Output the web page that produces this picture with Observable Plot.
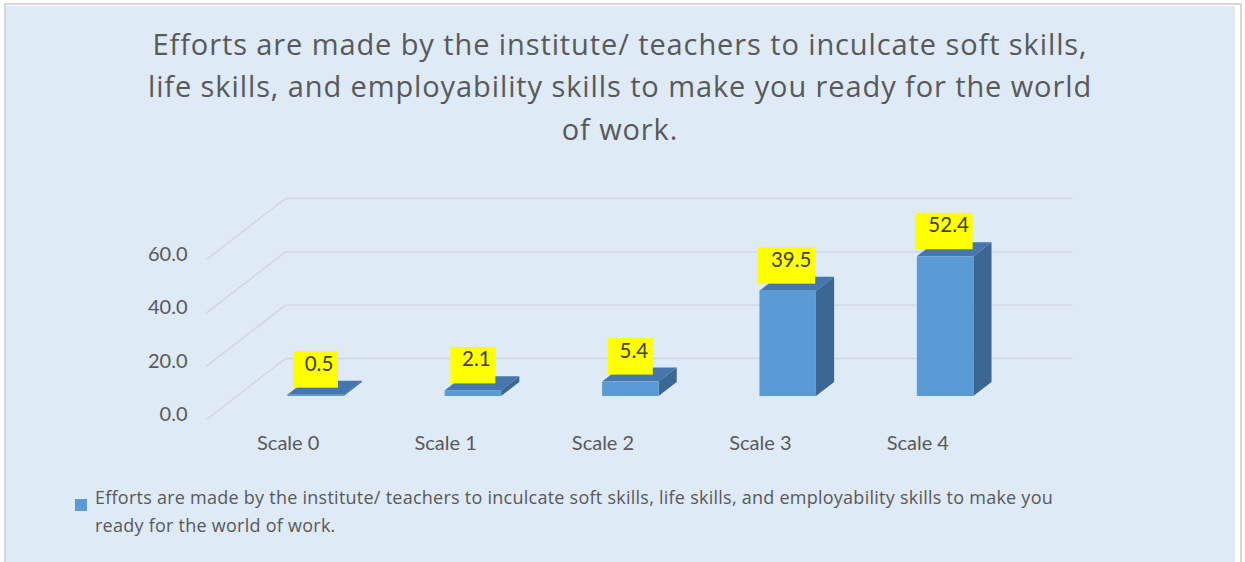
<!DOCTYPE html>
<html><head><meta charset="utf-8">
<script src="https://cdn.jsdelivr.net/npm/d3@7"></script>
<script src="https://cdn.jsdelivr.net/npm/@observablehq/plot@0.6"></script>
<style>
html,body{margin:0;padding:0;background:#fff;}
body{width:1245px;height:562px;overflow:hidden;position:relative;font-family:Lato,"Open Sans",sans-serif;}
#outer{position:absolute;left:4px;top:3px;width:1238px;height:600px;border:2px solid #d6d6d6;box-sizing:border-box;background:#fff;}
#bg{position:absolute;left:6px;top:6px;width:1229px;height:600px;background:#deeaf6;}
#title{position:absolute;left:0;top:22.5px;width:1240px;text-align:center;color:#595959;font-family:"Open Sans",sans-serif;font-size:29px;letter-spacing:0.9px;line-height:42.5px;white-space:nowrap;}
#chart{position:absolute;left:0;top:170px;}
#legend{position:absolute;left:75px;top:484.3px;color:#595959;font-family:"Open Sans",sans-serif;font-size:18px;letter-spacing:0.25px;line-height:27.5px;white-space:nowrap;}
#legend .sw{position:absolute;left:0;top:15px;width:12px;height:12px;background:#5b9bd5;}
#legend .tx{position:absolute;left:20px;top:0;}
</style>
</head><body>
<div id="outer"></div><div id="bg"></div>
<div id="title"></div>
<div id="chart"></div>
<div id="legend"><div class="sw"></div><div class="tx"></div></div>
<script>
// ---- data ----
const categories = ["Scale 0", "Scale 1", "Scale 2", "Scale 3", "Scale 4"];
const values = [0.5, 2.1, 5.4, 39.5, 52.4];
const yTicks = [0, 20, 40, 60];
const titleLines = [
  "Efforts are made by the institute/ teachers to inculcate soft skills,",
  "life skills, and employability skills to make you ready for the world",
  "of work."
];
const legendLines = [
  "Efforts are made by the institute/ teachers to inculcate soft skills, life skills, and employability skills to make you",
  "ready for the world of work."
];

// ---- oblique 3D projection parameters (depth expressed in data units) ----
const DX = 0.502;    // category units per unit of depth
const DY = 22.875;   // value units per unit of depth
const barL = 0.327, barR = 0.686;  // bar extent within a category
const zF = 0.377, zB = 0.607;      // bar front / back depth

const rows = categories.map((c, i) => ({c, i, v: values[i], label: values[i].toFixed(1)}));
const depthPts = rows.flatMap(d => [zF, zB].map(z => ({...d, z})));

const cx = d => d.i + (barL + barR) / 2 + zF * DX;
const cy = d => d.v + (zF + zB) / 2 * DY;

const grid = "#cfd6dd";
const labelFont = 20.5;

document.getElementById("title").innerHTML = titleLines.join("<br>");
document.querySelector("#legend .tx").innerHTML = legendLines.join("<br>");

const chart = Plot.plot({
  width: 1245,
  height: 300,
  marginLeft: 206, marginRight: 173, marginTop: 28, marginBottom: 51,
  style: {fontFamily: "Lato, 'Open Sans', sans-serif", background: "transparent", overflow: "visible"},
  x: {type: "linear", domain: [0, categories.length + DX], range: [206, 1072], axis: null},
  y: {type: "linear", domain: [0, 60 + DY], range: [249, 28], axis: null},
  marks: [
    // side wall gridlines (front to back)
    Plot.link(yTicks, {x1: () => 0, y1: v => v, x2: () => DX, y2: v => v + DY, stroke: grid, strokeWidth: 1.4}),
    // back wall gridlines
    Plot.link(yTicks, {x1: () => DX, y1: v => v + DY, x2: () => categories.length + DX, y2: v => v + DY, stroke: grid, strokeWidth: 1.4}),
    // bar side faces
    Plot.areaY(depthPts, {x: d => d.i + barR + d.z * DX, y1: d => d.z * DY, y2: d => d.v + d.z * DY, z: "c", fill: "#3c6792"}),
    // bar top faces
    Plot.areaX(depthPts, {y: d => d.v + d.z * DY, x1: d => d.i + barL + d.z * DX, x2: d => d.i + barR + d.z * DX, z: "c", fill: "#4576ad"}),
    // bar front faces
    Plot.rect(rows, {x1: d => d.i + barL + zF * DX, x2: d => d.i + barR + zF * DX, y1: () => zF * DY, y2: d => d.v + zF * DY, fill: "#5b9bd5"}),
    // label boxes
    Plot.rect(rows.filter(d => d.label.length <= 3), {x1: cx, x2: cx, y1: cy, y2: cy, fill: "#ffff00",
      insetLeft: -22.5, insetRight: -22.5, insetTop: -36.5, insetBottom: 0}),
    Plot.rect(rows.filter(d => d.label.length > 3), {x1: cx, x2: cx, y1: cy, y2: cy, fill: "#ffff00",
      insetLeft: -30, insetRight: -27.5, insetTop: -36.5, insetBottom: 0}),
    // value labels
    Plot.text(rows, {x: cx, y: cy, text: "label", dx: 3, dy: -17.5, lineAnchor: "bottom", fill: "#404040", fontSize: labelFont}),
    // y axis labels
    Plot.text(yTicks, {x: () => 0, y: v => v, text: v => v.toFixed(1), textAnchor: "end", lineAnchor: "bottom", dx: -19, dy: 1.5, fill: "#595959", fontSize: 20}),
    // category labels
    Plot.text(rows, {x: d => d.i + 0.5, y: () => 0, text: "c", lineAnchor: "bottom", dx: 3, dy: 30.3, fill: "#595959", fontSize: 20})
  ]
});
document.getElementById("chart").appendChild(chart);
</script>
</body></html>
